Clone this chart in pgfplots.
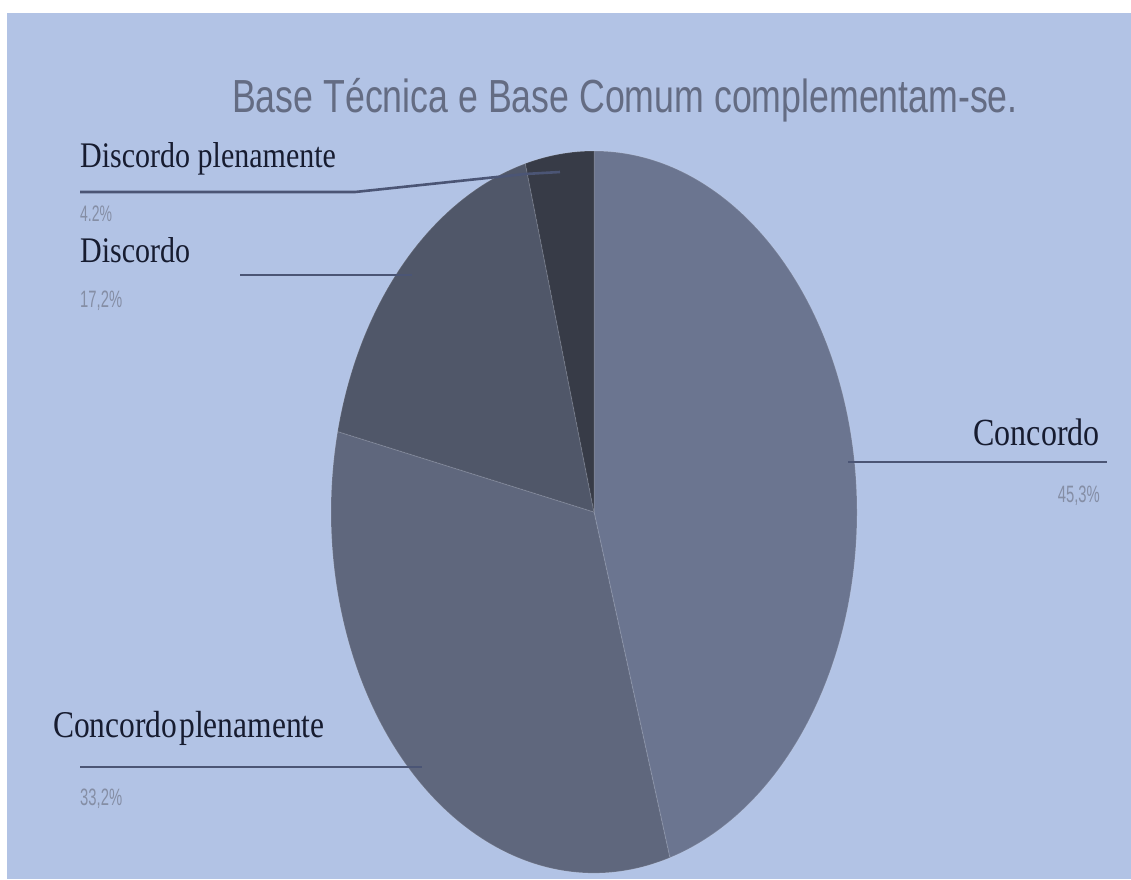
\documentclass[border=0pt]{standalone}
\usepackage{pgfplots}
\pgfplotsset{compat=1.18}
\usepackage{pgfplotstable}
\usepackage{graphicx}
\usepackage{fontspec}
\setmainfont{Liberation Serif}
\newfontfamily\sansf{Liberation Sans}
\definecolor{bg}{HTML}{B2C3E5}
\definecolor{cA}{HTML}{6B7590}
\definecolor{cB}{HTML}{5F677D}
\definecolor{cC}{HTML}{505769}
\definecolor{cD}{HTML}{373B47}
\definecolor{lead}{HTML}{4B5575}
\definecolor{pct}{HTML}{858EA5}
\definecolor{ttl}{HTML}{646C83}
\definecolor{lbl}{HTML}{171C30}

\pgfplotstableread{
label value color
Concordo 45.3 cA
ConcordoPlenamente 33.2 cB
Discordo 17.2 cC
DiscordoPlenamente 4.2 cD
}\piedata

\begin{document}
\begin{tikzpicture}
\begin{axis}[hide axis, scale only axis, width=1131pt, height=879pt,
  xmin=0, xmax=1131, ymin=0, ymax=879, y dir=reverse, clip=false]
\coordinate (TL) at (axis cs:0,0);
\coordinate (BR) at (axis cs:1131,879);
\fill[white] (axis cs:0,0) rectangle (axis cs:1131,879);
\fill[bg] (axis cs:7,13) rectangle (axis cs:1131,879);
% total
\pgfmathsetmacro{\tot}{0}
\pgfplotsforeachungrouped \i in {0,...,3}{%
  \pgfplotstablegetelem{\i}{value}\of\piedata \let\val\pgfplotsretval
  \pgfmathsetmacro{\tot}{\tot+\val}%
}
\pgfmathsetmacro{\cum}{0}
\pgfplotsforeachungrouped \i in {0,...,3}{%
  \pgfplotstablegetelem{\i}{value}\of\piedata \let\val\pgfplotsretval
  \pgfplotstablegetelem{\i}{color}\of\piedata \let\col\pgfplotsretval
  \pgfmathsetmacro{\sa}{90-(\cum/\tot)*360}%
  \pgfmathsetmacro{\cum}{\cum+\val}%
  \pgfmathsetmacro{\ea}{90-(\cum/\tot)*360}%
  \edef\slice{\noexpand\fill[fill=\col, draw=white, draw opacity=0.12, line width=1pt] (axis cs:594,512) -- ++(\sa:263pt and 361pt) arc[start angle=\sa, end angle=\ea, x radius=263pt, y radius=361pt] -- cycle;}%
  \slice
}
% leader lines
\draw[lead, line width=2.6pt] (axis cs:80,192) -- (axis cs:355,192) -- (axis cs:525,174) -- (axis cs:560,172);
\draw[lead, line width=2.6pt] (axis cs:240,275) -- (axis cs:412,275);
\draw[lead, line width=2.6pt] (axis cs:80,767) -- (axis cs:422,767);
\draw[lead, line width=2.6pt] (axis cs:848,462) -- (axis cs:1107,462);
% title
\node[anchor=base, inner sep=0, text=ttl] at (axis cs:625,112) {\scalebox{1}[1.3]{\sansf\fontsize{35.7}{40}\selectfont Base Técnica e Base Comum complementam-se.}};
% labels
\node[anchor=base west, inner sep=0, text=lbl] at (axis cs:80,167) {\scalebox{1}[1.2]{\fontsize{30}{36}\selectfont Discordo plenamente}};
\node[anchor=base west, inner sep=0, text=pct] at (axis cs:80,221) {\scalebox{1}[1.6]{\sansf\fontsize{14}{18}\selectfont 4.2\%}};
\node[anchor=base west, inner sep=0, text=lbl] at (axis cs:80,262) {\scalebox{1}[1.2]{\fontsize{30}{36}\selectfont Discordo}};
\node[anchor=base west, inner sep=0, text=pct] at (axis cs:80,307) {\scalebox{1}[1.6]{\sansf\fontsize{14.8}{18}\selectfont 17,2\%}};
\node[anchor=base east, inner sep=0, text=lbl] at (axis cs:1100,445) {\scalebox{1}[1.2]{\fontsize{32}{36}\selectfont Concordo}};
\node[anchor=base east, inner sep=0, text=pct] at (axis cs:1100,502) {\scalebox{1}[1.6]{\sansf\fontsize{14.8}{18}\selectfont 45,3\%}};
\node[anchor=base west, inner sep=0, text=lbl] at (axis cs:53,737) {\scalebox{1}[1.2]{\fontsize{31.5}{36}\selectfont Concordo\hspace{2pt}plenamente}};
\node[anchor=base west, inner sep=0, text=pct] at (axis cs:80,805) {\scalebox{1}[1.6]{\sansf\fontsize{14.8}{18}\selectfont 33,2\%}};
\end{axis}
\pgfresetboundingbox
\path[use as bounding box] (TL) rectangle (BR);
\end{tikzpicture}
\end{document}
